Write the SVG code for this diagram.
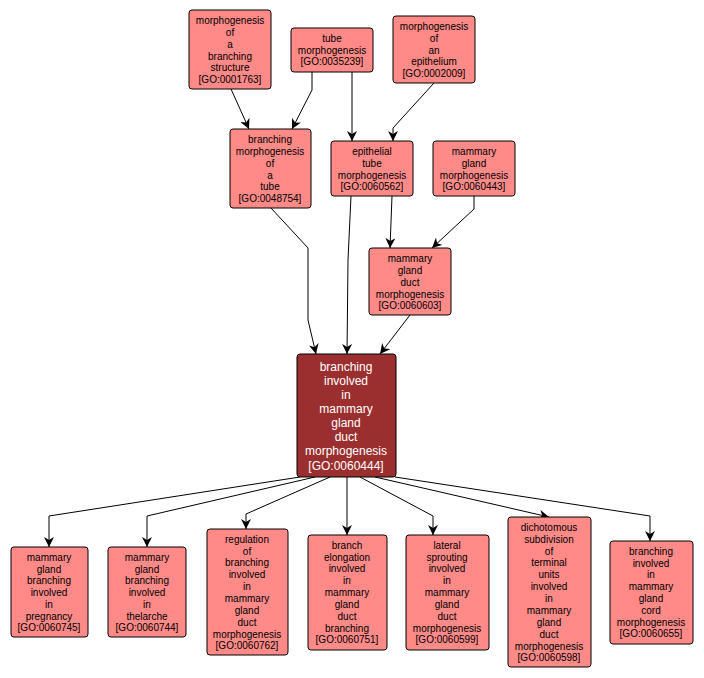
<svg xmlns="http://www.w3.org/2000/svg" width="704" height="678" viewBox="0 0 704 678">
<style>
.n rect{fill:#ff8a87;stroke:#000;stroke-width:1}
.n text{font-family:"Liberation Sans",Arial,sans-serif;font-size:10px;text-anchor:middle;fill:#000}
.h rect{fill:#9b2f2f;stroke:#000;stroke-width:1}
.h text{font-family:"Liberation Sans",Arial,sans-serif;font-size:12px;text-anchor:middle;fill:#fff}
#edges path{fill:none;stroke:#000;stroke-width:1;marker-end:url(#a)}
</style>
<defs><marker id="a" viewBox="0 0 10 10" refX="10" refY="5" markerWidth="10" markerHeight="10" markerUnits="userSpaceOnUse" orient="auto"><path d="M0,0 L10,5 L0,10 L3,5 Z" fill="#000"/></marker></defs>
<rect width="704" height="678" fill="#fff"/>
<g id="edges">
<path d="M231,89 L249,129"/>
<path d="M312,72 L312,90 L292,129"/>
<path d="M352,72 L352,141"/>
<path d="M434,83 L393,128 L393,141"/>
<path d="M271,208 L308,248 L308,320 L316,354"/>
<path d="M351,196 L348,260 L347,354"/>
<path d="M392,196 L390,248"/>
<path d="M474,196 L474,209 L432,248"/>
<path d="M410,315 L380,354"/>
<path d="M300,477 L49,516 L49,547"/>
<path d="M315,477 L147,516 L147,547"/>
<path d="M330,477 L246,514 L246,529"/>
<path d="M347,477 L347,535"/>
<path d="M360,477 L433,516 L433,535"/>
<path d="M375,477 L549,517"/>
<path d="M395,477 L650,516 L650,541"/>
</g>
<g id="n1" class="n"><rect x="189" y="10" width="82" height="79" rx="3"/><text x="230" y="24">morphogenesis</text><text x="230" y="36">of</text><text x="230" y="48">a</text><text x="230" y="60">branching</text><text x="230" y="71">structure</text><text x="230" y="83">[GO:0001763]</text></g>
<g id="n2" class="n"><rect x="291" y="28" width="82" height="44" rx="3"/><text x="332" y="42">tube</text><text x="332" y="54">morphogenesis</text><text x="332" y="65">[GO:0035239]</text></g>
<g id="n3" class="n"><rect x="393" y="16" width="82" height="67" rx="3"/><text x="434" y="30">morphogenesis</text><text x="434" y="42">of</text><text x="434" y="54">an</text><text x="434" y="65">epithelium</text><text x="434" y="77">[GO:0002009]</text></g>
<g id="n4" class="n"><rect x="230" y="129" width="81" height="79" rx="3"/><text x="270" y="143">branching</text><text x="270" y="155">morphogenesis</text><text x="270" y="167">of</text><text x="270" y="179">a</text><text x="270" y="190">tube</text><text x="270" y="202">[GO:0048754]</text></g>
<g id="n5" class="n"><rect x="331" y="141" width="82" height="55" rx="3"/><text x="372" y="155">epithelial</text><text x="372" y="167">tube</text><text x="372" y="179">morphogenesis</text><text x="372" y="190">[GO:0060562]</text></g>
<g id="n6" class="n"><rect x="433" y="141" width="82" height="55" rx="3"/><text x="474" y="155">mammary</text><text x="474" y="167">gland</text><text x="474" y="179">morphogenesis</text><text x="474" y="190">[GO:0060443]</text></g>
<g id="n7" class="n"><rect x="369" y="248" width="82" height="67" rx="3"/><text x="410" y="262">mammary</text><text x="410" y="274">gland</text><text x="410" y="286">duct</text><text x="410" y="298">morphogenesis</text><text x="410" y="309">[GO:0060603]</text></g>
<g id="n8" class="h"><rect x="297" y="354" width="99" height="123" rx="3"/><text x="346" y="371">branching</text><text x="346" y="385">involved</text><text x="346" y="399">in</text><text x="346" y="413">mammary</text><text x="346" y="427">gland</text><text x="346" y="441">duct</text><text x="346" y="455">morphogenesis</text><text x="346" y="470">[GO:0060444]</text></g>
<g id="n9" class="n"><rect x="11" y="547" width="77" height="90" rx="3"/><text x="49" y="561">mammary</text><text x="49" y="573">gland</text><text x="49" y="584">branching</text><text x="49" y="596">involved</text><text x="49" y="608">in</text><text x="49" y="620">pregnancy</text><text x="49" y="631">[GO:0060745]</text></g>
<g id="n10" class="n"><rect x="108" y="547" width="78" height="90" rx="3"/><text x="147" y="561">mammary</text><text x="147" y="573">gland</text><text x="147" y="584">branching</text><text x="147" y="596">involved</text><text x="147" y="608">in</text><text x="147" y="620">thelarche</text><text x="147" y="631">[GO:0060744]</text></g>
<g id="n11" class="n"><rect x="207" y="529" width="81" height="126" rx="3"/><text x="247" y="543">regulation</text><text x="247" y="555">of</text><text x="247" y="566">branching</text><text x="247" y="578">involved</text><text x="247" y="590">in</text><text x="247" y="602">mammary</text><text x="247" y="614">gland</text><text x="247" y="626">duct</text><text x="247" y="638">morphogenesis</text><text x="247" y="649">[GO:0060762]</text></g>
<g id="n12" class="n"><rect x="308" y="535" width="79" height="115" rx="3"/><text x="347" y="549">branch</text><text x="347" y="561">elongation</text><text x="347" y="572">involved</text><text x="347" y="584">in</text><text x="347" y="596">mammary</text><text x="347" y="608">gland</text><text x="347" y="620">duct</text><text x="347" y="632">branching</text><text x="347" y="643">[GO:0060751]</text></g>
<g id="n13" class="n"><rect x="406" y="535" width="83" height="115" rx="3"/><text x="447" y="549">lateral</text><text x="447" y="561">sprouting</text><text x="447" y="572">involved</text><text x="447" y="584">in</text><text x="447" y="596">mammary</text><text x="447" y="608">gland</text><text x="447" y="620">duct</text><text x="447" y="632">morphogenesis</text><text x="447" y="643">[GO:0060599]</text></g>
<g id="n14" class="n"><rect x="508" y="517" width="83" height="150" rx="3"/><text x="549" y="531">dichotomous</text><text x="549" y="543">subdivision</text><text x="549" y="555">of</text><text x="549" y="566">terminal</text><text x="549" y="578">units</text><text x="549" y="590">involved</text><text x="549" y="602">in</text><text x="549" y="614">mammary</text><text x="549" y="626">gland</text><text x="549" y="638">duct</text><text x="549" y="650">morphogenesis</text><text x="549" y="661">[GO:0060598]</text></g>
<g id="n15" class="n"><rect x="610" y="541" width="83" height="103" rx="3"/><text x="651" y="555">branching</text><text x="651" y="567">involved</text><text x="651" y="578">in</text><text x="651" y="590">mammary</text><text x="651" y="602">gland</text><text x="651" y="614">cord</text><text x="651" y="626">morphogenesis</text><text x="651" y="637">[GO:0060655]</text></g>
</svg>
